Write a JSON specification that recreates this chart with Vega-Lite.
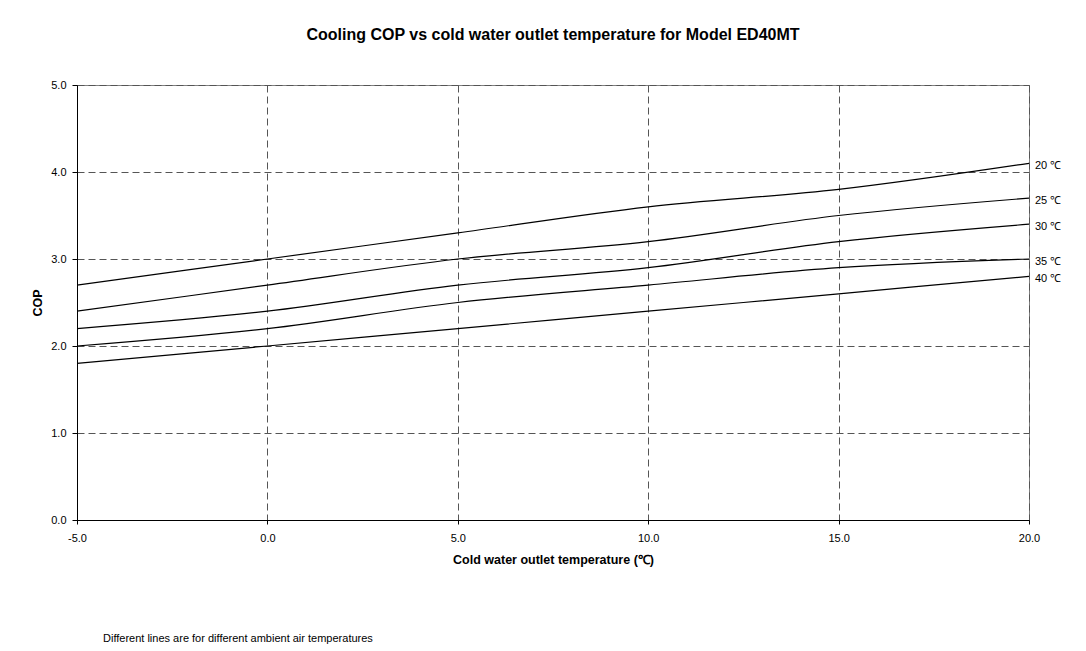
{
  "$schema": "https://vega.github.io/schema/vega-lite/v6.json",
  "width": 952,
  "height": 435,
  "autosize": {"type": "none"},
  "padding": {"left": 77, "top": 85, "right": 57, "bottom": 131},
  "background": "white",
  "title": {
    "text": "Cooling COP vs cold water outlet temperature for Model ED40MT",
    "font": "Liberation Sans",
    "fontSize": 16,
    "fontWeight": "bold",
    "anchor": "middle",
    "offset": 36,
    "color": "black"
  },
  "config": {
    "font": "Liberation Sans",
    "view": {"stroke": "#808080", "strokeWidth": 1},
    "axis": {
      "labelFont": "Liberation Sans",
      "titleFont": "Liberation Sans",
      "labelFontSize": 11,
      "titleFontSize": 12.5,
      "titleFontWeight": "bold",
      "labelColor": "black",
      "titleColor": "black",
      "domainColor": "black",
      "domainWidth": 1,
      "tickColor": "black",
      "grid": true,
      "gridDash": [7, 4],
      "gridColor": "#555555",
      "gridWidth": 1,
      "gridOpacity": 1,
      "labelFlush": false,
      "labelOverlap": false
    }
  },
  "datasets": {
    "cop": [
      {"ambient": "20 ℃", "t": -5, "cop": 2.7},
      {"ambient": "20 ℃", "t": 0, "cop": 3.0},
      {"ambient": "20 ℃", "t": 5, "cop": 3.3},
      {"ambient": "20 ℃", "t": 10, "cop": 3.6},
      {"ambient": "20 ℃", "t": 15, "cop": 3.8},
      {"ambient": "20 ℃", "t": 20, "cop": 4.1},
      {"ambient": "25 ℃", "t": -5, "cop": 2.4},
      {"ambient": "25 ℃", "t": 0, "cop": 2.7},
      {"ambient": "25 ℃", "t": 5, "cop": 3.0},
      {"ambient": "25 ℃", "t": 10, "cop": 3.2},
      {"ambient": "25 ℃", "t": 15, "cop": 3.5},
      {"ambient": "25 ℃", "t": 20, "cop": 3.7},
      {"ambient": "30 ℃", "t": -5, "cop": 2.2},
      {"ambient": "30 ℃", "t": 0, "cop": 2.4},
      {"ambient": "30 ℃", "t": 5, "cop": 2.7},
      {"ambient": "30 ℃", "t": 10, "cop": 2.9},
      {"ambient": "30 ℃", "t": 15, "cop": 3.2},
      {"ambient": "30 ℃", "t": 20, "cop": 3.4},
      {"ambient": "35 ℃", "t": -5, "cop": 2.0},
      {"ambient": "35 ℃", "t": 0, "cop": 2.2},
      {"ambient": "35 ℃", "t": 5, "cop": 2.5},
      {"ambient": "35 ℃", "t": 10, "cop": 2.7},
      {"ambient": "35 ℃", "t": 15, "cop": 2.9},
      {"ambient": "35 ℃", "t": 20, "cop": 3.0},
      {"ambient": "40 ℃", "t": -5, "cop": 1.8},
      {"ambient": "40 ℃", "t": 0, "cop": 2.0},
      {"ambient": "40 ℃", "t": 5, "cop": 2.2},
      {"ambient": "40 ℃", "t": 10, "cop": 2.4},
      {"ambient": "40 ℃", "t": 15, "cop": 2.6},
      {"ambient": "40 ℃", "t": 20, "cop": 2.8}
    ],
    "notes": [
      {"note": "Different lines are for different ambient air temperatures"}
    ]
  },
  "layer": [
    {
      "data": {"name": "cop"},
      "mark": {"type": "line", "interpolate": "cardinal", "color": "black", "strokeWidth": 1.2},
      "encoding": {
        "x": {
          "field": "t",
          "type": "quantitative",
          "scale": {"domain": [-5, 20], "nice": false, "zero": false},
          "axis": {
            "values": [-5, 0, 5, 10, 15, 20],
            "format": ".1f",
            "labelExpr": "replace(datum.label, '\u2212', '-')",
            "title": "Cold water outlet temperature (℃)",
            "tickSize": 4,
            "labelPadding": 8,
            "titlePadding": 10
          }
        },
        "y": {
          "field": "cop",
          "type": "quantitative",
          "scale": {"domain": [0, 5], "nice": false},
          "axis": {
            "values": [0, 1, 2, 3, 4, 5],
            "format": ".1f",
            "title": "COP",
            "tickSize": 5,
            "labelPadding": 6,
            "titlePadding": 6
          }
        },
        "detail": {"field": "ambient", "type": "nominal"}
      }
    },
    {
      "data": {"name": "cop"},
      "transform": [{"filter": "datum.t == 20"}],
      "mark": {"type": "text", "align": "left", "baseline": "middle", "dx": 6, "dy": 3, "fontSize": 11, "color": "black"},
      "encoding": {
        "x": {"field": "t", "type": "quantitative"},
        "y": {"field": "cop", "type": "quantitative"},
        "text": {"field": "ambient"}
      }
    },
    {
      "data": {"name": "notes"},
      "mark": {"type": "text", "align": "left", "baseline": "middle", "dx": 26, "dy": 119, "fontSize": 11, "color": "black"},
      "encoding": {
        "x": {"datum": -5},
        "y": {"datum": 0},
        "text": {"field": "note"}
      }
    }
  ]
}
